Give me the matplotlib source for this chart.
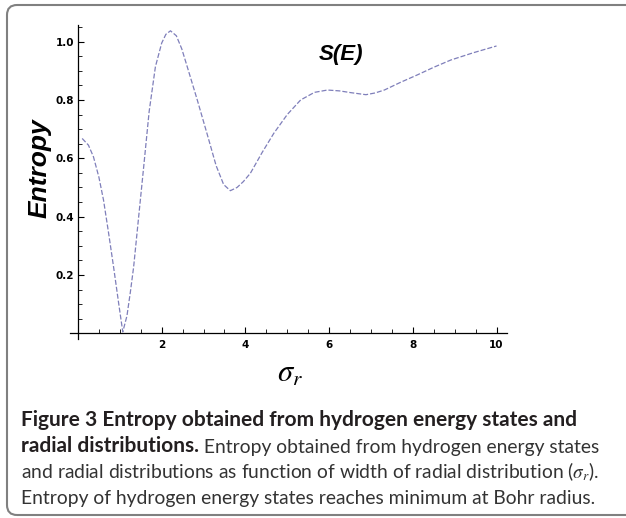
import numpy as np
import matplotlib
matplotlib.use("Agg")
import matplotlib.pyplot as plt
from matplotlib.patches import FancyBboxPatch
from matplotlib.transforms import IdentityTransform

# valori (sigma_r, entropia)
sigma_r = [0.10, 0.25, 0.37, 0.50, 0.61, 0.73, 0.85, 0.97, 1.07, 1.17, 1.25, 1.33,
           1.45, 1.57, 1.70, 1.85, 2.00, 2.10, 2.21, 2.35, 2.48, 2.61, 2.85, 3.08,
           3.30, 3.48, 3.64, 3.80, 3.95, 4.12, 4.40, 4.68, 5.00, 5.32, 5.65, 5.96,
           6.25, 6.52, 6.88, 7.10, 7.32, 7.70, 8.11, 8.50, 8.91, 9.45, 10.0]
entropia = [0.668, 0.645, 0.605, 0.535, 0.457, 0.345, 0.228, 0.105, 0.005, 0.060, 0.140, 0.228,
            0.400, 0.571, 0.760, 0.914, 0.995, 1.025, 1.037, 1.020, 0.975, 0.914, 0.800, 0.686,
            0.575, 0.510, 0.489, 0.500, 0.520, 0.549, 0.620, 0.686, 0.750, 0.800, 0.826, 0.834,
            0.831, 0.825, 0.818, 0.824, 0.834, 0.860, 0.886, 0.912, 0.937, 0.962, 0.985]

x_ticks = [2, 4, 6, 8, 10]
y_ticks = [0.2, 0.4, 0.6, 0.8, 1.0]
y_tick_labels = ["0.2", "0.4", "0.6", "0.8", "1.0"]

caption_bold_1 = "Figure 3 Entropy obtained from hydrogen energy states and"
caption_bold_2 = "radial distributions."
caption_2 = " Entropy obtained from hydrogen energy states"
caption_3 = r"and radial distributions as function of width of radial distribution ($\sigma_r$)."
caption_4 = "Entropy of hydrogen energy states reaches minimum at Bohr radius."

plt.rcParams["mathtext.fontset"] = "stix"

fig = plt.figure(figsize=(6.26, 5.18), dpi=100)

# cornice arrotondata (esce a destra)
bordo = FancyBboxPatch((7, 3), 660, 510, boxstyle="round,pad=0,rounding_size=10",
                       transform=IdentityTransform(), facecolor="none",
                       edgecolor="#808080", linewidth=1.5)
fig.add_artist(bordo)

ax = fig.add_axes([0.1112, 0.3452, 0.6987, 0.6066])
ax.plot(sigma_r, entropia, color="#7f7fba", linewidth=0.9, dashes=(4, 1.6))

ax.set_xlim(-0.2, 10.25)
ax.set_ylim(-0.02, 1.057)

# assi stile Mathematica
for s in ["top", "right"]:
    ax.spines[s].set_visible(False)
ax.spines["left"].set_position(("data", 0))
ax.spines["bottom"].set_position(("data", 0))
ax.spines["left"].set_linewidth(0.9)
ax.spines["bottom"].set_linewidth(0.9)

ax.set_xticks(x_ticks)
ax.set_xticklabels([str(t) for t in x_ticks])
ax.set_xticks(np.arange(0.5, 10.01, 0.5), minor=True)
ax.set_yticks(y_ticks)
ax.set_yticklabels(y_tick_labels)
ax.set_yticks(np.arange(0.05, 1.051, 0.05), minor=True)
ax.tick_params(which="major", direction="in", length=4.5, width=0.8, pad=5)
ax.tick_params(axis="y", which="major", pad=3)
ax.tick_params(which="minor", direction="in", length=2.8, width=0.6)
for lab in ax.get_xticklabels() + ax.get_yticklabels():
    lab.set_fontsize(7.5)
    lab.set_fontweight("bold")
    lab.set_family("DejaVu Sans")

ax.text(6.28, 0.955, "S(E)", ha="center", va="center", fontsize=16,
        fontweight="bold", fontstyle="italic", family="Liberation Sans")

fig.text(40 / 626, 1 - 168 / 518, "Entropy", rotation=90, ha="center", va="center",
         fontsize=19, fontweight="bold", fontstyle="italic", family="Liberation Sans")
fig.text(290 / 626, 1 - 373 / 518, r"$\sigma_r$", ha="center", va="center", fontsize=22)

# didascalia
x0 = 21 / 626
fs = 15
fig.text(x0, 1 - 426 / 518, caption_bold_1, family="Lato", fontweight="bold",
         fontsize=fs, color="#231f20", va="baseline")
t2 = fig.text(x0, 1 - 452 / 518, caption_bold_2, family="Lato", fontweight="bold",
              fontsize=fs, color="#231f20", va="baseline")
t2b = plt.Annotation(caption_2, xy=(1, 0), xycoords=t2, va="bottom", ha="left",
                     family="Lato", fontsize=fs, color="#333333")
fig.add_artist(t2b)
t3 = fig.text(x0, 1 - 478 / 518, caption_3, family="Lato", fontsize=fs,
              color="#333333", va="baseline")
t4 = fig.text(x0, 1 - 504 / 518, caption_4, family="Lato", fontsize=fs,
              color="#333333", va="baseline")

# il testo normale di Lato e' piu' largo: riduco la dimensione perche' la riga 3 finisca a ~600 px
r = fig.canvas.get_renderer()
w3 = t3.get_window_extent(r).width
fs_reg = fs * (600 - 21) / w3
for t in [t2b, t3, t4]:
    t.set_fontsize(fs_reg)

fig.savefig("out.png", dpi=100)
